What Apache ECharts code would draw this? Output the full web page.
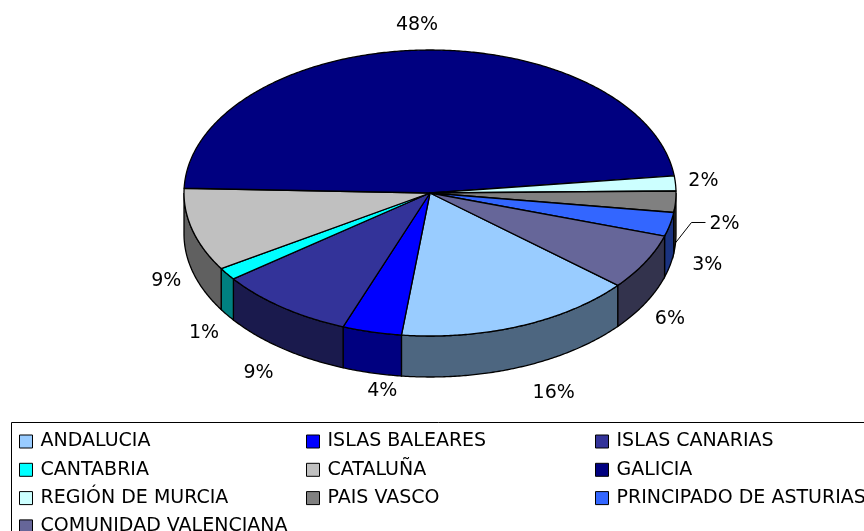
<!DOCTYPE html>
<html><head><meta charset="utf-8">
<style>html,body{margin:0;padding:0;background:#fff}#c{width:864px;height:531px}</style>
<script src="https://cdn.jsdelivr.net/npm/echarts@6/dist/echarts.min.js"></script>
</head><body><div id="c"></div>
<script>
const categories = ['ANDALUCIA','ISLAS BALEARES','ISLAS CANARIAS','CANTABRIA','CATALUÑA','GALICIA','REGIÓN DE MURCIA','PAIS VASCO','PRINCIPADO DE ASTURIAS','COMUNIDAD VALENCIANA'];
const shares = [15.7,3.9,9.0,1.4,9.4,47.6,1.7,2.4,2.7,6.3];
const colors = ['#99CCFF','#0000FF','#333399','#00FFFF','#C0C0C0','#000080','#CCFFFF','#808080','#3366FF','#666699'];
const legendColumns = [[0,3,6,9],[1,4,7],[2,5,8]];

// layout
const CX=430, CY=193, RX=246, RY=143, DEPTH=41, START=40.2, LABEL_GAP=28;
const LEGEND_X=[19,306,595];
const labelNudge = {0:[23,0],1:[17,-9],2:[-7,2],3:[0,2],4:[1,3],5:[-1,3],7:[21,-20],8:[10,-6],9:[0,2]};
const total = shares.reduce((a,b)=>a+b,0);
const rad = d=>d*Math.PI/180;
const P=(d,dz=0)=>[CX+RX*Math.cos(rad(d)),CY+RY*Math.sin(rad(d))+dz];
function shade(h){const n=parseInt(h.slice(1),16);
  return 'rgb('+[(n>>16)&255,(n>>8)&255,n&255].map(v=>Math.round(v/2)).join(',')+')';}
function arc(a,b,dz){const out=[];const n=Math.max(2,Math.ceil(Math.abs(b-a)*2));
  for(let i=0;i<=n;i++)out.push(P(a+(b-a)*i/n,dz));return out;}

function makeRender(idx){
  return function(params,api){
    const v=api.value(0);
    let before=0;for(let i=0;i<idx;i++)before+=shares[i];
    const a=START+before/total*360, b=a+v/total*360, mid=(a+b)/2;
    const line={stroke:'#000',lineWidth:1.3};
    const children=[];
    [[0,180],[360,540]].forEach(([lo,hi])=>{
      const s=Math.max(a,lo), e=Math.min(b,hi);
      if(e>s){
        children.push({type:'polygon',shape:{points:arc(s,e,0).concat(arc(e,s,DEPTH))},
          style:Object.assign({fill:shade(colors[idx])},line)});
      }
    });
    children.push({type:'polygon',shape:{points:[[CX,CY]].concat(arc(a,b,0))},
      style:Object.assign({fill:colors[idx]},line,{lineJoin:'round'})});
    const c=Math.cos(rad(mid)), s=Math.sin(rad(mid));
    const nudge=labelNudge[idx]||[0,0];
    const lx=CX+(RX+LABEL_GAP)*c+nudge[0];
    const ly=CY+(RY+LABEL_GAP)*s+(s>0?DEPTH:0)+nudge[1];
    children.push({type:'text',style:{text:Math.round(v/total*100)+'%',x:lx,y:ly,align:'center',verticalAlign:'middle',
      font:'19px "DejaVu Sans"',fill:'#000'}});
    if(idx===7){
      children.push({type:'polyline',shape:{points:[P(mid,DEPTH),[lx-33,ly-2],[lx-19,ly-2]]},style:{stroke:'#000',lineWidth:1,fill:'none'}});
    }
    return {type:'group',children};
  };
}

const chart=echarts.init(document.getElementById('c'),null,{renderer:'canvas'});
chart.setOption({
  animation:false,
  backgroundColor:'#fff',
  graphic:[{type:'rect',z:-1,shape:{x:11.5,y:422.5,width:900,height:200},style:{fill:'#fff',stroke:'#000',lineWidth:1},silent:true}],
  legend:legendColumns.map((col,i)=>({
    orient:'vertical',left:LEGEND_X[i],top:432,height:200,width:600,
    data:col.map(k=>categories[k]),
    icon:'rect',itemWidth:13,itemHeight:13,itemGap:9.3,
    selectedMode:false,padding:0,
    itemStyle:{borderColor:'#000',borderWidth:1},
    textStyle:{fontFamily:'DejaVu Sans',fontSize:19,color:'#000',padding:[0,0,0,3],lineHeight:18}
  })),
  series:categories.map((name,i)=>({
    type:'custom',name,coordinateSystem:'none',silent:true,
    itemStyle:{color:colors[i],borderColor:'#000',borderWidth:1},
    renderItem:makeRender(i),
    data:[[shares[i]]]
  }))
});
</script></body></html>
